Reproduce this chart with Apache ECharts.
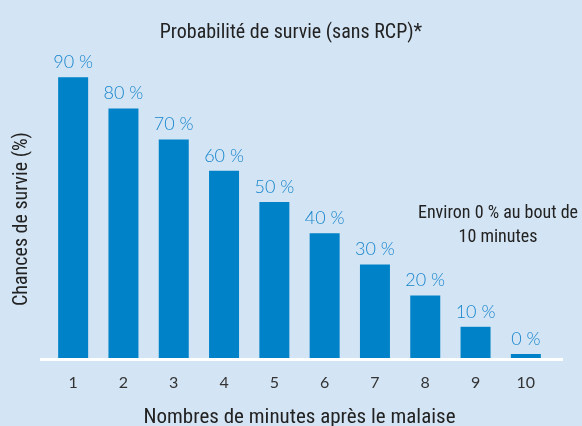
<!DOCTYPE html>
<html>
<head>
<meta charset="utf-8">
<script src="https://cdn.jsdelivr.net/npm/echarts@6/dist/echarts.min.js"></script>
<style>
  html, body { margin: 0; padding: 0; background: #d3e4f4; }
  #chart { width: 582px; height: 426px; }
</style>
</head>
<body>
<div id="chart"></div>
<script>
var minutes = ['1', '2', '3', '4', '5', '6', '7', '8', '9', '10'];
var survie = [90, 80, 70, 60, 50, 40, 30, 20, 10, 0];

var condensed = '"Liberation Sans Narrow", "Roboto Condensed", Arial, sans-serif';

var myChart = echarts.init(document.getElementById('chart'), null, { renderer: 'canvas' });

var option = {
    backgroundColor: '#d3e4f4',
    title: {
        text: 'Probabilité de survie (sans RCP)*',
        left: 'center',
        top: 18,
        textStyle: { fontFamily: condensed, fontSize: 20, fontWeight: 'normal', color: '#222' }
    },
    graphic: [
        {
            // white baseline, wider than the bars area
            type: 'rect',
            shape: { x: 40, y: 358, width: 523, height: 3 },
            style: { fill: '#ffffff' },
            z: 1
        },
        {
            type: 'text',
            x: 498,
            y: 225,
            style: {
                text: 'Environ 0 % au bout de\n10 minutes',
                align: 'center',
                verticalAlign: 'middle',
                fontFamily: condensed,
                fontSize: 18,
                lineHeight: 24,
                fill: '#222'
            }
        },
        {
            type: 'text',
            x: 22,
            y: 219,
            rotation: Math.PI / 2,
            style: {
                text: 'Chances de survie (%)',
                align: 'center',
                verticalAlign: 'middle',
                fontFamily: condensed,
                fontSize: 20,
                fill: '#222'
            }
        }
    ],
    grid: { left: 48, right: 31, top: 46, bottom: 68, outerBoundsMode: 'none', containLabel: false },
    xAxis: {
        type: 'category',
        data: minutes,
        name: 'Nombres de minutes après le malaise',
        nameLocation: 'middle',
        nameGap: 49,
        nameTextStyle: { fontFamily: condensed, fontSize: 21, color: '#222' },
        axisLine: { show: false },
        axisTick: { show: false },
        axisLabel: { margin: 17, fontFamily: 'Lato, sans-serif', fontSize: 16, color: '#333' }
    },
    yAxis: {
        type: 'value',
        min: 0,
        max: 100,
        axisLine: { show: false },
        axisTick: { show: false },
        axisLabel: { show: false },
        splitLine: { show: false }
    },
    series: [
        {
            type: 'bar',
            data: survie,
            barWidth: 30,
            barMinHeight: 4,
            itemStyle: { color: '#0082c8' },
            z: 2,
            label: {
                show: true,
                position: 'top',
                distance: 6,
                formatter: '{c} %',
                fontFamily: 'Lato, sans-serif',
                fontWeight: 300,
                fontSize: 18,
                color: '#1785cc'
            }
        }
    ]
};

myChart.setOption(option);
</script>
</body>
</html>
